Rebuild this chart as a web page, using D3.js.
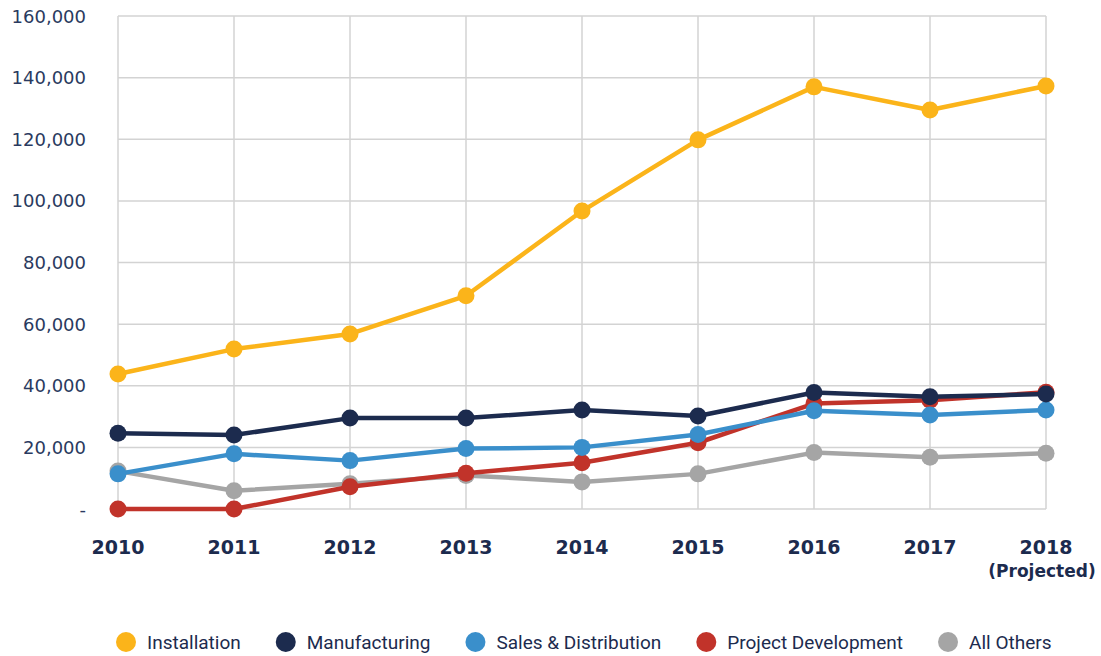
<!DOCTYPE html>
<html>
<head>
<meta charset="utf-8">
<script src="https://cdn.jsdelivr.net/npm/d3@7"></script>
<style>
  html, body { margin: 0; padding: 0; background: #fff; }
  svg { display: block; }
</style>
</head>
<body>
<svg id="chart" width="1101" height="656"></svg>
<script>
// Jobs by sector, 2010-2018 (2018 projected)
const years = ["2010", "2011", "2012", "2013", "2014", "2015", "2016", "2017", "2018"];
const yTicks = [0, 20000, 40000, 60000, 80000, 100000, 120000, 140000, 160000];

const installation = [43800, 51900, 56800, 69200, 96700, 119800, 137000, 129500, 137300];
const manufacturing = [24600, 24000, 29500, 29500, 32100, 30200, 37800, 36400, 37300];
const salesDistribution = [11400, 17900, 15700, 19600, 20000, 24200, 31900, 30500, 32100];
const projectDevelopment = [0, 0, 7200, 11600, 15000, 21500, 34200, 35300, 37900];
const allOthers = [12300, 5900, 8200, 10900, 8800, 11400, 18300, 16800, 18100];

// legend order
const series = [
    { name: "Installation", values: installation, color: "#fbb41a" },
    { name: "Manufacturing", values: manufacturing, color: "#1c2b4e" },
    { name: "Sales & Distribution", values: salesDistribution, color: "#3a8fcb" },
    { name: "Project Development", values: projectDevelopment, color: "#c1332a" },
    { name: "All Others", values: allOthers, color: "#a5a5a5" }
];
// drawing order (back to front)
const drawOrder = ["All Others", "Project Development", "Sales & Distribution", "Manufacturing", "Installation"];

const svg = d3.select("#chart");
const margin = { top: 16, left: 118, right: 55, bottom: 147 };
const W = 1101, H = 656;

const x = d3.scalePoint().domain(years).range([margin.left, W - margin.right]);
const y = d3.scaleLinear().domain([0, 160000]).range([H - margin.bottom, margin.top]);

const navy = "#1c2b4e";
const grid = "#d3d3d3";

// grid
svg.append("g").selectAll("line.h").data(yTicks).enter()
    .append("line")
    .attr("x1", x(years[0])).attr("x2", x(years[years.length - 1]))
    .attr("y1", d => y(d)).attr("y2", d => y(d))
    .attr("stroke", grid).attr("stroke-width", 1.5);
svg.append("g").selectAll("line.v").data(years).enter()
    .append("line")
    .attr("x1", d => x(d)).attr("x2", d => x(d))
    .attr("y1", y(0)).attr("y2", y(160000))
    .attr("stroke", grid).attr("stroke-width", 1.5);

// y labels
const fmt = d3.format(",");
svg.append("g").selectAll("text").data(yTicks).enter()
    .append("text")
    .attr("x", 86).attr("y", d => y(d))
    .attr("text-anchor", "end").attr("dominant-baseline", "central")
    .style("font-family", "'DejaVu Sans', sans-serif")
    .style("font-size", "18px")
    .style("fill", "#2a3a60")
    .text(d => d === 0 ? "-" : fmt(d));

// x labels
const xl = svg.append("g").selectAll("text").data(years).enter()
    .append("text")
    .attr("x", d => x(d)).attr("y", 554)
    .attr("text-anchor", "middle")
    .style("font-family", "'DejaVu Sans', sans-serif")
    .style("font-size", "19px").style("font-weight", "700")
    .style("fill", navy);
xl.append("tspan").attr("x", d => x(d)).text(d => d);
xl.filter(d => d === "2018").append("tspan")
    .attr("x", d => x(d) - 4).attr("dy", 23)
    .style("font-size", "17px")
    .text("(Projected)");

// lines + dots
const line = d3.line().x((d, i) => x(years[i])).y(d => y(d));
drawOrder.forEach(name => {
    const s = series.find(d => d.name === name);
    const g = svg.append("g");
    g.append("path").datum(s.values)
        .attr("d", line).attr("fill", "none")
        .attr("stroke", s.color).attr("stroke-width", 4.5)
        .attr("stroke-linejoin", "round");
    g.selectAll("circle").data(s.values).enter()
        .append("circle")
        .attr("cx", (d, i) => x(years[i])).attr("cy", d => y(d))
        .attr("r", 8.5).attr("fill", s.color);
});

// legend
const legend = svg.append("g");
let lx = 116;
series.forEach(s => {
    legend.append("circle").attr("cx", lx + 10).attr("cy", 642).attr("r", 10).attr("fill", s.color);
    const t = legend.append("text")
        .attr("x", lx + 31).attr("y", 642)
        .attr("dominant-baseline", "central")
        .style("font-family", "'Liberation Sans Narrow', 'Roboto', sans-serif")
        .style("font-size", "19px")
        .style("fill", navy)
        .text(s.name);
    lx += 31 + t.node().getComputedTextLength() + 35;
});
</script>
</body>
</html>
